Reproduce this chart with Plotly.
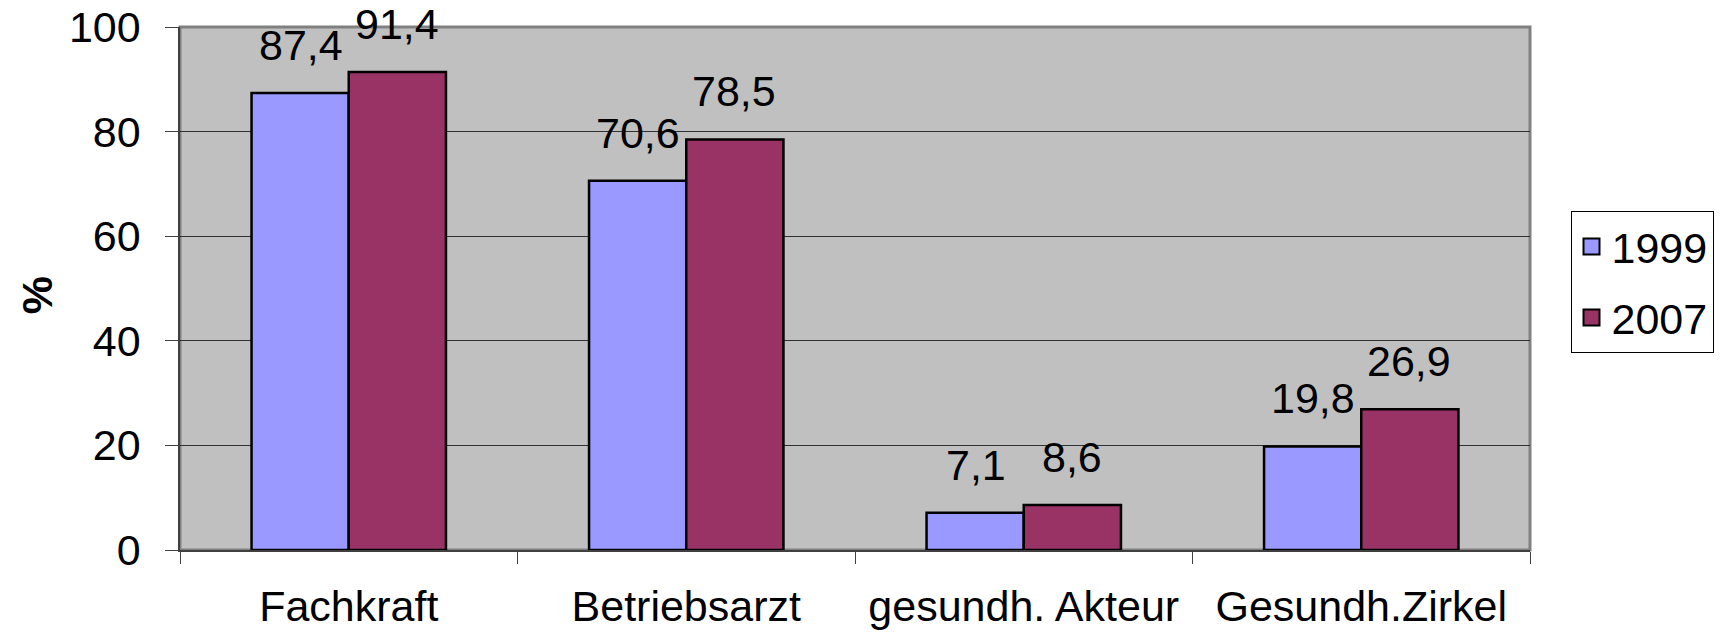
import plotly.graph_objects as go

categories = ["Fachkraft", "Betriebsarzt", "gesundh. Akteur", "Gesundh.Zirkel"]
years = ["1999", "2007"]
values_1999 = [87.4, 70.6, 7.1, 19.8]
values_2007 = [91.4, 78.5, 8.6, 26.9]
y_ticks = [0, 20, 40, 60, 80, 100]

colors = {"1999": "#9999FF", "2007": "#993366"}
font = "Liberation Sans, Arial, sans-serif"
fs = 43

fig = go.Figure()
for yr, vals in zip(years, [values_1999, values_2007]):
    fig.add_trace(go.Bar(
        x=categories, y=vals, name=yr, showlegend=False,
        marker=dict(color=colors[yr], line=dict(color="black", width=2.5)),
    ))
    # legend-only entry so the swatch can be a bigger square like the original
    fig.add_trace(go.Scatter(
        x=[None], y=[None], mode="markers", name=yr, legendgroup=yr,
        marker=dict(symbol="square", size=17, color=colors[yr],
                    line=dict(color="black", width=2)),
    ))

# value labels sit a bit above the bars
for yr, vals, shift in zip(years, [values_1999, values_2007], [-48, 48]):
    for cat, v in zip(categories, vals):
        fig.add_annotation(
            x=cat, y=v, text=f"{v:.1f}".replace(".", ","),
            xshift=shift, yshift=22, yanchor="bottom", showarrow=False,
            font=dict(size=fs, color="black", family=font),
        )

fig.add_annotation(
    x=-0.106, y=0.487, xref="paper", yref="paper", text="<b>%</b>", textangle=-90,
    xanchor="center", yanchor="middle",
    showarrow=False, font=dict(size=fs, color="black", family=font),
)

# grey frame on top/right of the plot area
fig.add_shape(type="rect", xref="paper", yref="paper", x0=0, x1=1, y0=0, y1=1,
              line=dict(color="#808080", width=3), layer="below")

fig.update_layout(
    width=1728, height=634,
    margin=dict(l=172, r=206, t=19, b=92, autoexpand=False),
    paper_bgcolor="white", plot_bgcolor="#C0C0C0",
    barmode="group", bargap=0.424, bargroupgap=0,
    font=dict(family=font, size=fs, color="black"),
    showlegend=True,
    legend=dict(
        x=1.030, y=0.648, xanchor="left", yanchor="top",
        bgcolor="white", bordercolor="black", borderwidth=1,
        font=dict(size=fs), tracegroupgap=12, traceorder="grouped",
        itemwidth=30,
    ),
)
fig.update_xaxes(
    showline=True, linecolor="#404040", linewidth=1.5, automargin=False,
    ticks="outside", ticklen=12, tickcolor="#404040", tickson="boundaries",
    ticklabelstandoff=18, showgrid=False, ticklabeloverflow="allow",
)
fig.update_yaxes(
    range=[0, 100], tickvals=y_ticks, showline=True, linecolor="#404040", linewidth=1.5,
    ticks="outside", ticklen=13, tickcolor="#404040", ticklabelstandoff=16,
    showgrid=True, gridcolor="#303030", gridwidth=1, zeroline=False, automargin=False,
    ticklabeloverflow="allow",
)

fig.write_html("out.html")
